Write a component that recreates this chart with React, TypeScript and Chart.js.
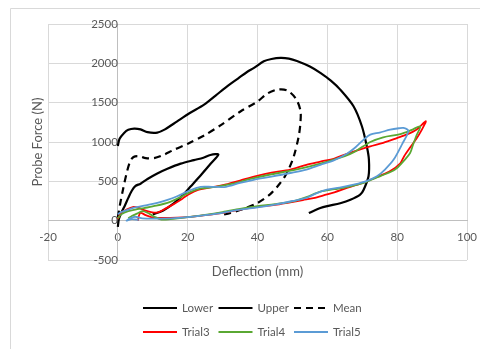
import React, { useEffect, useRef } from 'react';
import { Chart, registerables } from 'chart.js';

Chart.register(...registerables);

// ---- Data ----
const xTicks = [-20, 0, 20, 40, 60, 80, 100];
const yTicks = [-500, 0, 500, 1000, 1500, 2000, 2500];
const xTitle = 'Deflection (mm)';
const yTitle = 'Probe Force (N)';
const seriesNames = ['Lower', 'Upper', 'Mean', 'Trial3', 'Trial4', 'Trial5'];

const lowerX = [0, 0.3, 1, 2, 3, 4, 5, 6.5, 8.5, 11.3, 14.2, 18, 21.8, 24.5, 26.5, 28.8, 26.5, 24, 20.9, 18.5, 16, 13, 10];
const lowerY = [-80, 20, 100, 190, 290, 380, 440, 470, 530, 600, 660, 725, 770, 800, 835, 840, 720, 590, 437, 320, 220, 130, 80];

const upperX = [0, 0.5, 1.8, 3, 4.7, 6.5, 8.5, 11.3, 13.5, 17, 20.5, 24.7, 28, 31.3, 34.5, 37, 39, 41.8, 44, 46.6, 49, 51.3, 55, 58, 61, 63.7, 67.5, 69.9, 71.3, 71.9, 71.8, 70.4, 69.4, 66.6, 63.7, 60, 58, 54.7];
const upperY = [950, 1040, 1115, 1155, 1170, 1160, 1125, 1120, 1160, 1263, 1365, 1475, 1590, 1708, 1810, 1890, 1942, 2026, 2055, 2069, 2060, 2030, 1960, 1879, 1780, 1666, 1454, 1200, 945, 780, 565, 394, 331, 265, 222, 185, 160, 97];

const meanX = [0, 0.6, 1.5, 2.5, 3.5, 4.5, 6, 8, 10.4, 12.8, 16, 19.9, 25, 29.5, 35, 40, 42.8, 45.6, 48.5, 51, 52.3, 52.3, 51.8, 50.4, 49.2, 47.8, 46, 43.5, 40, 36, 32.3, 29.5];
const meanY = [40, 200, 400, 600, 750, 810, 820, 795, 795, 830, 900, 975, 1090, 1215, 1385, 1515, 1615, 1665, 1655, 1550, 1400, 1250, 1072, 818, 680, 560, 450, 330, 225, 150, 98, 70];

const trial3X = [0, 0.8, 2.5, 4.5, 5.8, 7.5, 9.5, 11.5, 13.5, 16, 18.5, 20.5, 23, 27.5, 31, 35, 39.9, 44, 49.4, 54, 58, 62, 65.6, 69, 72.3, 76, 79.9, 83, 85.6, 88.2, 87, 85.5, 83.7, 82, 80.9, 78, 75, 71.3, 68, 65.6, 62, 59.9, 56, 53, 49, 45, 40, 35, 30, 25, 20, 17, 13, 10, 8, 6.5, 6, 5.8];
const trial3Y = [20, 90, 140, 175, 165, 135, 110, 105, 150, 210, 280, 340, 390, 430, 460, 510, 570, 610, 650, 710, 750, 790, 850, 900, 945, 990, 1050, 1100, 1160, 1265, 1150, 1040, 930, 820, 730, 630, 570, 500, 450, 415, 360, 335, 285, 262, 230, 200, 175, 140, 100, 70, 45, 38, 35, 40, 70, 100, 60, 0];

const trial4X = [0, 1, 3, 5, 7.5, 11, 15, 18, 21, 24, 28, 33, 38, 44, 50, 55, 60, 65, 68, 72.3, 76, 80.9, 84, 86.6, 85.5, 84.5, 83.7, 81.5, 79.4, 76, 72, 70.4, 66, 62, 58, 54, 50, 45, 40, 35, 30, 25, 20, 15, 12.5, 10.5, 8.5, 7, 5.5, 4, 3];
const trial4Y = [30, 80, 120, 140, 160, 190, 240, 300, 370, 410, 430, 470, 530, 590, 640, 690, 750, 820, 880, 1000, 1060, 1100, 1150, 1200, 1080, 960, 860, 740, 650, 580, 510, 480, 430, 400, 370, 300, 245, 210, 185, 150, 110, 75, 45, 20, 15, 50, 100, 120, 90, 60, 30];

const trial5X = [0, 1, 3, 4.6, 8, 11.3, 14, 17, 20.9, 23.7, 27, 31, 35, 38.9, 44, 49.4, 54, 58, 62, 65.6, 68, 70.4, 72.3, 75, 78, 80.5, 81.8, 83.2, 81.5, 79, 76.5, 74.2, 71, 67.5, 63.5, 59.9, 57, 54, 50, 45, 40, 35, 30, 25, 20, 15, 10, 7, 5, 3.5, 2.5, 4, 6];
const trial5Y = [80, 110, 140, 165, 195, 225, 260, 310, 390, 430, 430, 430, 480, 520, 560, 606, 650, 710, 770, 850, 930, 1030, 1094, 1120, 1157, 1175, 1179, 1140, 980, 776, 650, 564, 500, 458, 420, 394, 350, 290, 250, 205, 170, 140, 100, 70, 45, 30, 25, 30, 50, 30, 0, 20, 10];

const toPoints = (xs: number[], ys: number[]) => xs.map((x, i) => ({ x, y: ys[i] }));

const FONT = 'Lato, "Open Sans", sans-serif';
const TEXT = '#595959';

const decorPlugin = {
  id: 'decor',
  beforeDraw(chart: any) {
    const { ctx } = chart;
    ctx.save();
    ctx.strokeStyle = '#d9d9d9';
    ctx.lineWidth = 1;
    ctx.beginPath();
    ctx.moveTo(10.5, 400);
    ctx.lineTo(10.5, 8.5);
    ctx.lineTo(600, 8.5);
    ctx.stroke();
    ctx.restore();
  },
  afterDraw(chart: any) {
    const { ctx, chartArea } = chart;
    ctx.save();
    ctx.fillStyle = TEXT;
    ctx.font = `13px ${FONT}`;
    ctx.textAlign = 'center';
    ctx.textBaseline = 'middle';
    ctx.fillText(xTitle, (chartArea.left + chartArea.right) / 2, chartArea.bottom + 12);
    ctx.save();
    ctx.translate(38, (chartArea.top + chartArea.bottom) / 2);
    ctx.rotate(-Math.PI / 2);
    ctx.fillText(yTitle, 0, 0);
    ctx.restore();

    // legend: two rows of three
    ctx.font = `11.5px ${FONT}`;
    ctx.textAlign = 'left';
    const startX = 143;
    const colW = 75.5;
    const rowY = [308, 332];
    chart.data.datasets.forEach((ds: any, i: number) => {
      const row = Math.floor(i / 3);
      const col = i % 3;
      const x = startX + col * colW;
      const y = rowY[row];
      ctx.save();
      ctx.strokeStyle = ds.borderColor;
      ctx.lineWidth = ds.borderWidth;
      ctx.setLineDash(ds.borderDash || []);
      ctx.beginPath();
      ctx.moveTo(x, y);
      ctx.lineTo(x + 34, y);
      ctx.stroke();
      ctx.restore();
      ctx.fillStyle = TEXT;
      ctx.fillText(ds.label, x + 39, y + 0.5);
    });
    ctx.restore();
  },
};

const noEdgePadding = (scale: any) => {
  scale.paddingLeft = 0;
  scale.paddingRight = 0;
  scale.paddingTop = 0;
  scale.paddingBottom = 0;
};

export default function App() {
  const ref = useRef<HTMLCanvasElement>(null);

  useEffect(() => {
    if (!ref.current) return;
    const colors = ['#000000', '#000000', '#000000', '#ff0000', '#5aa832', '#5b9bd5'];
    const xs = [lowerX, upperX, meanX, trial3X, trial4X, trial5X];
    const ys = [lowerY, upperY, meanY, trial3Y, trial4Y, trial5Y];
    const datasets = seriesNames.map((name, i) => ({
      label: name,
      data: toPoints(xs[i], ys[i]),
      borderColor: colors[i],
      backgroundColor: colors[i],
      borderWidth: i < 3 ? 2.2 : 1.8,
      borderDash: name === 'Mean' ? [7, 5] : [],
      pointRadius: 0,
      tension: 0.3,
      fill: false,
      order: 5 - i,
    }));
    const chart = new Chart(ref.current, {
      type: 'line',
      data: { datasets },
      options: {
        animation: false,
        responsive: false,
        devicePixelRatio: 1,
        layout: { autoPadding: false, padding: { left: 48, right: 13, top: 24, bottom: 89 } },
        plugins: { legend: { display: false }, tooltip: { enabled: false } },
        scales: {
          x: {
            type: 'linear',
            position: { y: 0 } as any,
            min: xTicks[0],
            max: xTicks[xTicks.length - 1],
            afterFit: noEdgePadding,
            ticks: {
              stepSize: xTicks[1] - xTicks[0],
              color: TEXT,
              font: { family: FONT, size: 11.5 },
              padding: 10,
              maxRotation: 0,
              callback: (v: any) => String(v),
            },
            grid: { color: '#d9d9d9', drawTicks: false },
            border: { color: '#bfbfbf' },
          },
          y: {
            type: 'linear',
            position: { x: 0 } as any,
            min: yTicks[0],
            max: yTicks[yTicks.length - 1],
            afterFit: noEdgePadding,
            ticks: {
              stepSize: yTicks[1] - yTicks[0],
              color: TEXT,
              font: { family: FONT, size: 11.5 },
              padding: 11,
              callback: (v: any) => String(v),
            },
            grid: { color: '#d9d9d9', drawTicks: false },
            border: { color: '#bfbfbf' },
          },
        },
      },
      plugins: [decorPlugin],
    });
    return () => chart.destroy();
  }, []);

  return (
    <div style={{ position: 'absolute', left: 0, top: 0, width: 480, height: 349, background: '#fff' }}>
      <canvas ref={ref} width={480} height={349} style={{ width: 480, height: 349 }} />
    </div>
  );
}
